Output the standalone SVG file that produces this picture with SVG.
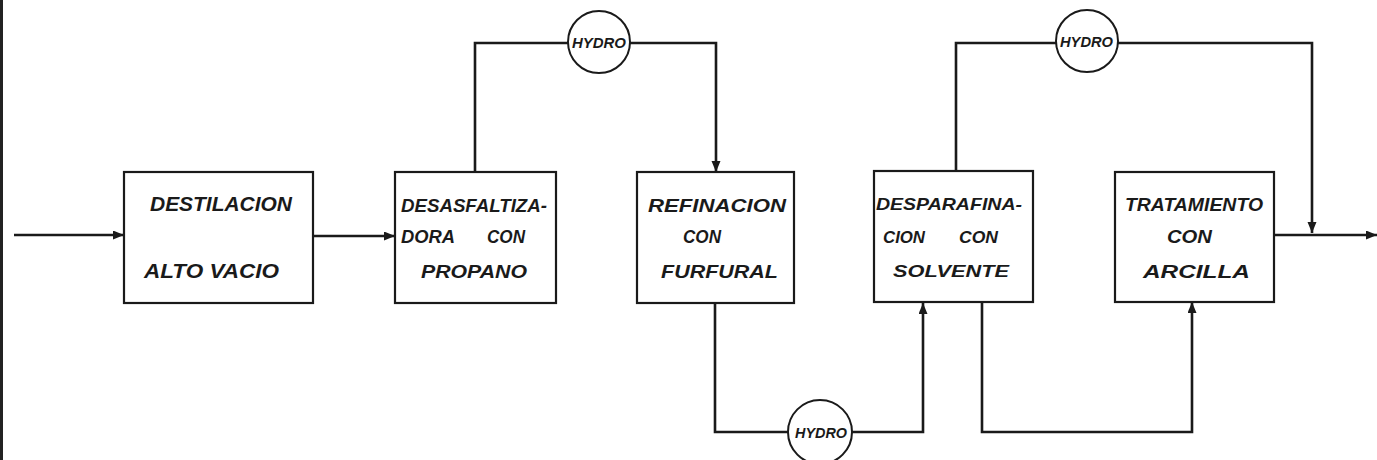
<svg xmlns="http://www.w3.org/2000/svg" width="1377" height="460" viewBox="0 0 1377 460">
<style>
.box{fill:#fff;stroke:#1a1a1a;stroke-width:2.2}
.hyd{fill:#fff;stroke:#1a1a1a;stroke-width:2}
.ln{fill:none;stroke:#1a1a1a;stroke-width:2.6}
.t{font-family:"Liberation Sans",Arial,sans-serif;font-weight:bold;font-style:italic;font-size:20px;fill:#1a1a1a}
.h{font-family:"Liberation Sans",Arial,sans-serif;font-weight:bold;font-style:italic;font-size:14.5px;fill:#1a1a1a}
</style>
<defs>
<marker id="ah" markerUnits="userSpaceOnUse" markerWidth="12" markerHeight="10" refX="11" refY="4.5" orient="auto">
<path d="M0,0 L11,4.5 L0,9 z" fill="#1a1a1a"/>
</marker>
</defs>
<rect x="0" y="0" width="3" height="460" fill="#222"/>
<g id="connectors">
<path class="ln" d="M14,235 H124" marker-end="url(#ah)"/>
<path class="ln" d="M313,236 H395" marker-end="url(#ah)"/>
<path class="ln" d="M475,172 V43 H716 V172" marker-end="url(#ah)"/>
<path class="ln" d="M715,303 V432 H923 V303" marker-end="url(#ah)"/>
<path class="ln" d="M956,171 V43 H1312 V233" marker-end="url(#ah)"/>
<path class="ln" d="M982,302 V432 H1192 V302" marker-end="url(#ah)"/>
<path class="ln" d="M1274,235 H1377" marker-end="url(#ah)"/>
</g>
<g id="destilacion" font-size="21">
<rect class="box" x="124" y="172" width="189" height="131"/>
<text class="t" style="font-size:21px" x="150" y="211" textLength="142" lengthAdjust="spacingAndGlyphs">DESTILACION</text>
<text class="t" style="font-size:21px" x="144" y="278" textLength="135" lengthAdjust="spacingAndGlyphs">ALTO VACIO</text>
</g>
<g id="desasfaltizadora">
<rect class="box" x="395" y="172" width="161" height="131"/>
<text class="t" style="font-size:17.5px" x="401" y="212" textLength="146" lengthAdjust="spacingAndGlyphs">DESASFALTIZA-</text>
<text class="t" style="font-size:17.5px" y="243"><tspan x="401" textLength="54" lengthAdjust="spacingAndGlyphs">DORA</tspan><tspan x="487" textLength="38" lengthAdjust="spacingAndGlyphs">CON</tspan></text>
<text class="t" style="font-size:17.5px" x="421" y="278" textLength="106" lengthAdjust="spacingAndGlyphs">PROPANO</text>
</g>
<g id="refinacion">
<rect class="box" x="637" y="172" width="157" height="131"/>
<text class="t" style="font-size:19px" x="648" y="212" textLength="138" lengthAdjust="spacingAndGlyphs">REFINACION</text>
<text class="t" style="font-size:19px" x="683" y="243" textLength="38" lengthAdjust="spacingAndGlyphs">CON</text>
<text class="t" style="font-size:19px" x="661" y="278" textLength="117" lengthAdjust="spacingAndGlyphs">FURFURAL</text>
</g>
<g id="desparafinacion">
<rect class="box" x="874" y="171" width="159" height="131"/>
<text class="t" style="font-size:16.5px" x="876" y="210" textLength="146" lengthAdjust="spacingAndGlyphs">DESPARAFINA-</text>
<text class="t" style="font-size:16.5px" y="243"><tspan x="883" textLength="42" lengthAdjust="spacingAndGlyphs">CION</tspan><tspan x="959" textLength="39" lengthAdjust="spacingAndGlyphs">CON</tspan></text>
<text class="t" style="font-size:17px" x="893" y="277" textLength="116" lengthAdjust="spacingAndGlyphs">SOLVENTE</text>
</g>
<g id="tratamiento">
<rect class="box" x="1115" y="172" width="159" height="130"/>
<text class="t" style="font-size:19px" x="1125" y="211" textLength="138" lengthAdjust="spacingAndGlyphs">TRATAMIENTO</text>
<text class="t" style="font-size:19px" x="1167" y="243" textLength="45" lengthAdjust="spacingAndGlyphs">CON</text>
<text class="t" style="font-size:19px" x="1143" y="278" textLength="107" lengthAdjust="spacingAndGlyphs">ARCILLA</text>
</g>
<g id="hydro1">
<circle class="hyd" cx="599" cy="42" r="31"/>
<text class="h" x="572" y="48" textLength="54" lengthAdjust="spacingAndGlyphs">HYDRO</text>
</g>
<g id="hydro2">
<circle class="hyd" cx="1087" cy="41" r="31"/>
<text class="h" x="1060" y="47" textLength="53" lengthAdjust="spacingAndGlyphs">HYDRO</text>
</g>
<g id="hydro3">
<circle class="hyd" cx="820" cy="432" r="32"/>
<text class="h" x="795" y="438" textLength="52" lengthAdjust="spacingAndGlyphs">HYDRO</text>
</g>
</svg>
